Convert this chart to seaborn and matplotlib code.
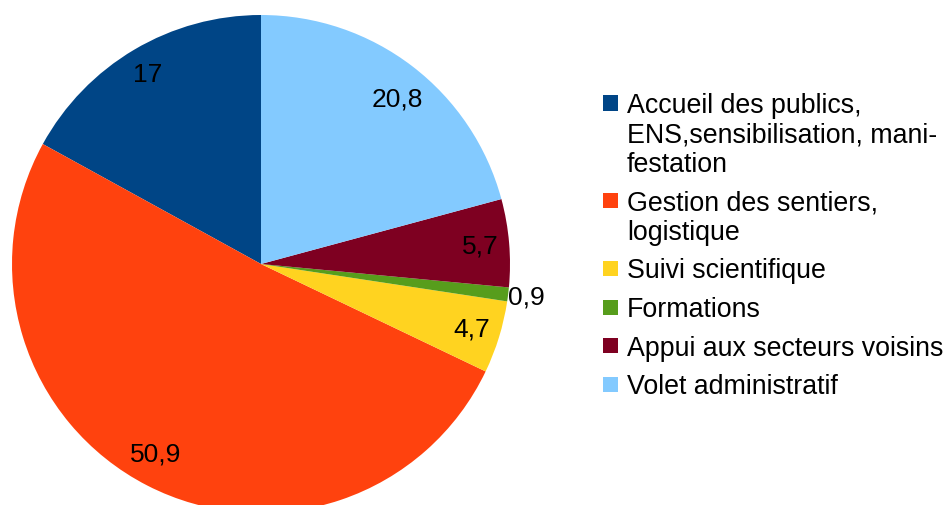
import numpy as np
import matplotlib
matplotlib.use('Agg')
import matplotlib.pyplot as plt
import seaborn as sns
from matplotlib.patches import Rectangle

# Data
categories = [
    'Accueil des publics,\nENS,sensibilisation, mani-\nfestation',
    'Gestion des sentiers,\nlogistique',
    'Suivi scientifique',
    'Formations',
    'Appui aux secteurs voisins',
    'Volet administratif',
]
values = [17, 50.9, 4.7, 0.9, 5.7, 20.8]
value_labels = ['17', '50,9', '4,7', '0,9', '5,7', '20,8']
colors = ['#004586', '#ff420e', '#ffd320', '#579d1c', '#7e0021', '#83caff']

sns.set_theme(style='white')
plt.rcParams['font.family'] = ['Liberation Sans', 'DejaVu Sans']

W, H = 950, 506
fig = plt.figure(figsize=(W / 100, H / 100), dpi=100)

# pie axes: centre (261, 265) px, radius 249 px
cx, cy, R = 261, 265, 249
ax = fig.add_axes([(cx - R) / W, (H - cy - R) / H, 2 * R / W, 2 * R / H])
wedges, texts = ax.pie(values, colors=colors, startangle=90, counterclock=True,
                       radius=1, labels=value_labels, labeldistance=0.885,
                       wedgeprops=dict(linewidth=0),
                       textprops=dict(fontsize=19, color='black'))

# label placement tweaks (radius, angle shift in degrees), like the office export
label_tweak = {'20,8': (0.86, -2.0), '50,9': (0.87, -2.0), '17': (0.89, 0.2)}
for w, t in zip(wedges, texts):
    t.set_ha('center')
    t.set_va('center')
    mid = (w.theta1 + w.theta2) / 2
    if w.theta2 - w.theta1 < 5:
        # tiny slice: label sits just outside the pie
        r, shift = 1.075, 0.0
    else:
        r, shift = label_tweak.get(t.get_text(), (0.885, 0.0))
    ang = np.deg2rad(mid + shift)
    t.set_position((r * np.cos(ang), r * np.sin(ang)))
ax.set_xlim(-1, 1)
ax.set_ylim(-1, 1)
ax.set_aspect('equal')
ax.axis('off')
for w in wedges:
    w.set_clip_on(False)

# legend (handles aligned with the first line of each entry)
line_h = 29.5
gap = 9
baseline = 113
for lab, col in zip(categories, colors):
    lines = lab.split('\n')
    sq = 15
    fig.add_artist(Rectangle((603 / W, (H - (baseline - 9) - sq / 2) / H),
                             sq / W, sq / H, transform=fig.transFigure,
                             facecolor=col, edgecolor='none'))
    for k, ln in enumerate(lines):
        fig.text(627 / W, (H - (baseline + k * line_h)) / H, ln,
                 fontsize=19.3, ha='left', va='baseline', color='black')
    baseline += len(lines) * line_h + gap

fig.savefig('out.png', dpi=100)
